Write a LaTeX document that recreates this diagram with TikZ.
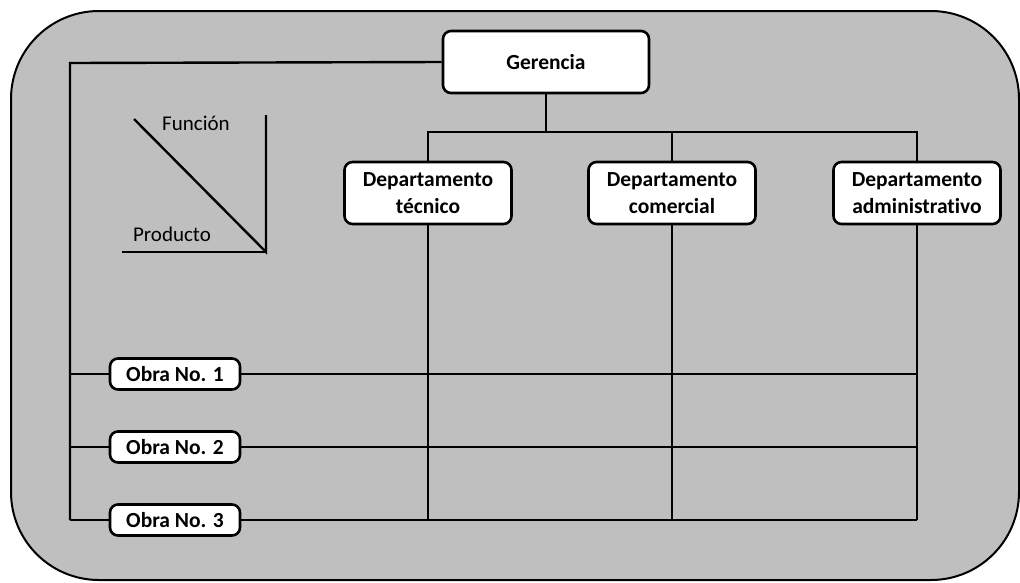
\documentclass[tikz,border=0pt]{standalone}
\usepackage{fontspec}
\setmainfont[Ligatures=NoCommon]{Carlito}

\begin{document}
\begin{tikzpicture}[x=1pt,y=-1pt,line width=2.4pt]
\tikzset{caja/.style={draw,fill=white,line width=2.6pt,rounded corners=8pt,font=\bfseries\fontsize{21.5}{27.5}\selectfont,align=center,inner sep=0pt},
         etiqueta/.style={font=\fontsize{21}{25}\selectfont,inner sep=0pt}}
\useasboundingbox (0,0) rectangle (1020,582);
\draw[fill=black!25,line width=2pt,rounded corners=88pt] (11,11) rectangle (1019,580);
% cajas
\node[caja,minimum width=206pt,minimum height=62pt] (ger) at (546,62) {Gerencia};
\node[caja,minimum width=167pt,minimum height=62pt] (dep1) at (428,193) {Departamento\\t\'ecnico};
\node[caja,minimum width=167pt,minimum height=62pt] (dep2) at (672,193) {Departamento\\comercial};
\node[caja,minimum width=167pt,minimum height=62pt] (dep3) at (917,193) {Departamento\\administrativo};
\node[caja,minimum width=130pt,minimum height=31pt] (obra1) at (175,374) {Obra No. 1};
\node[caja,minimum width=130pt,minimum height=31pt] (obra2) at (175,447) {Obra No. 2};
\node[caja,minimum width=130pt,minimum height=31pt] (obra3) at (175,520) {Obra No. 3};
\coordinate (izq) at (70,63);
\coordinate (bus) at (546,132);
% lineas
\draw (ger.west) -- (izq) -- (izq |- obra3);
\draw (ger.south) -- (bus);
\draw (dep1.north) -- (dep1.north |- bus) -- (dep3.north |- bus) -- (dep3.north);
\draw (dep2.north) -- (dep2.north |- bus);
\foreach \d in {dep1,dep2,dep3}
  \draw (\d.south) -- (\d.south |- obra3);
\foreach \o in {obra1,obra2,obra3} {
  \draw (izq |- \o) -- (\o.west);
  \draw (\o.east) -- (dep3.south |- \o);
}
% funcion / producto
\coordinate (esq) at (266,252);
\draw (134,119) -- (esq) -- (266,115);
\draw (122,252) -- (esq);
\node[etiqueta] (fun) at (196,123) {Función};
\node[etiqueta] (pro) at (172,234) {Producto};
\end{tikzpicture}
\end{document}
